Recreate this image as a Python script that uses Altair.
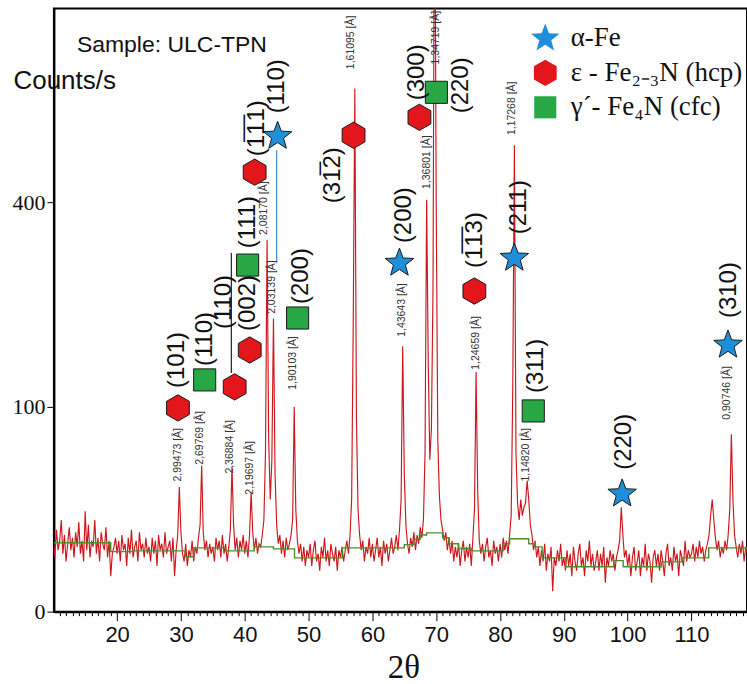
import altair as alt
import pandas as pd

# ---------------- data ----------------
THETA_START = 10.0
THETA_STEP = 0.25
# measured counts/s on a 0.25 deg grid, one list per 5 deg segment
seg_010 = [13, 7, 16, 9, 12, 20, 8, 14, 6, 11, 17, 9, 13, 7, 15, 10, 19, 8, 12, 6]
seg_015 = [24, 9, 18, 7, 12, 10, 20, 8, 13, 6, 15, 11, 9, 17, 7, 12, 3, 8, 10, 13]
seg_020 = [8, 12, 6, 14, 9, 11, 5, 13, 8, 16, 7, 10, 12, 6, 15, 9, 11, 7, 13, 8]
seg_025 = [10, 6, 13, 8, 12, 5, 14, 9, 11, 7, 15, 8, 10, 12, 6, 13, 3, 9, 14, 37]
seg_030 = [15, 8, 6, 11, 5, 9, 7, 12, 6, 10, 8, 13, 18, 51, 15, 9, 12, 7, 11, 8]
seg_035 = [10, 6, 13, 9, 12, 7, 14, 8, 11, 6, 10, 16, 50, 18, 9, 13, 7, 12, 9, 14]
seg_040 = [8, 12, 7, 14, 34, 15, 9, 13, 8, 11, 10, 14, 20, 60, 330, 70, 30, 55, 205, 45]
seg_045 = [18, 11, 14, 8, 12, 7, 13, 9, 11, 14, 20, 100, 25, 12, 8, 11, 6, 10, 5, 9]
seg_050 = [7, 11, 5, 9, 12, 6, 8, 4, 10, 7, 13, 6, 9, 5, 11, 8, 6, 10, 4, 9]
seg_055 = [7, 10, 6, 9, 12, 8, 14, 30, 200, 653, 90, 25, 14, 9, 12, 6, 10, 8, 13, 7]
seg_060 = [11, 6, 9, 13, 7, 10, 5, 12, 8, 11, 6, 9, 13, 8, 10, 14, 9, 16, 30, 168]
seg_065 = [45, 18, 11, 8, 13, 10, 15, 9, 14, 11, 17, 13, 20, 60, 404, 150, 55, 80, 250, 1500]
seg_070 = [400, 70, 32, 20, 16, 12, 15, 9, 13, 8, 12, 6, 10, 7, 11, 5, 9, 12, 6, 10]
seg_075 = [7, 11, 5, 13, 25, 137, 35, 12, 8, 11, 6, 10, 13, 7, 9, 5, 12, 8, 10, 6]
seg_080 = [11, 7, 13, 9, 12, 8, 14, 22, 120, 519, 60, 28, 20, 30, 22, 26, 28, 41, 30, 18]
seg_085 = [14, 9, 12, 7, 10, 5, 9, 6, 11, 4, 8, 6, 10, 1, 7, 5, 9, 6, 11, 5]
seg_090 = [7, 4, 9, 5, 8, 3, 10, 6, 4, 8, 11, 5, 7, 3, 9, 6, 12, 5, 8, 4]
seg_095 = [6, 9, 4, 8, 5, 10, 2, 7, 5, 9, 6, 8, 4, 7, 9, 12, 26, 14, 7, 9]
seg_100 = [5, 8, 3, 7, 10, 4, 6, 9, 3, 7, 5, 11, 4, 8, 6, 2, 7, 9, 5, 8]
seg_105 = [4, 9, 6, 3, 8, 11, 5, 7, 4, 10, 6, 8, 3, 9, 7, 5, 12, 6, 9, 7]
seg_110 = [8, 11, 6, 10, 7, 12, 8, 10, 6, 9, 11, 14, 22, 30, 20, 13, 9, 12, 7, 10]
seg_115 = [8, 12, 9, 14, 25, 75, 30, 14, 10, 7, 11, 8, 12, 6, 10, 8]

# fitted background (green step line)
bg_theta = [10.1, 19.0, 22.5, 30.7, 32.0, 37.0, 41.5, 44.5, 47.8, 55.3, 65.0, 66.5,
            67.5, 68.5, 71.0, 72.0, 73.5, 75.5, 80.5, 81.5, 84.5, 85.5, 86.6, 90.3,
            97.8, 99.3, 105.3, 108.5, 112.7, 118.7]
bg_counts = [11.3, 8.6, 8.8, 7.2, 9.7, 8.8, 10.0, 9.4, 6.9, 9.7, 10.7, 12.5,
             14.0, 14.8, 13.0, 11.0, 9.5, 8.8, 11.0, 12.7, 11.0, 10.0, 6.9, 4.8,
             6.2, 4.8, 5.9, 6.9, 9.7, 9.7]

# phases
phases = ["α-Fe", "ε - Fe₂₋₃N (hcp)", "γ´- Fe₄N (cfc)"]
phase_fill = ["#1e8fd8", "#e3161c", "#27a844"]
STAR = ("M0,-1L0.247,-0.34L0.951,-0.309L0.4,0.13L0.588,0.809L0,0.42"
        "L-0.588,0.809L-0.4,0.13L-0.951,-0.309L-0.247,-0.34Z")
HEX = "M0,-1L0.866,-0.5L0.866,0.5L0,1L-0.866,0.5L-0.866,-0.5Z"
SQUARE = "M-1,-1L1,-1L1,1L-1,1Z"
phase_shape = [STAR, HEX, SQUARE]
phase_size = [900, 490, 420]

# reflection markers: phase index, 2theta, marker height (counts/s)
mk_phase = [1, 2, 1, 1, 2, 1, 0, 2, 1, 0, 1, 2, 1, 0, 2, 0, 0]
mk_theta = [29.53, 33.72, 38.42, 40.78, 40.45, 41.55, 45.15, 48.28, 57.05,
            64.24, 67.37, 70.03, 75.98, 82.24, 85.21, 99.14, 115.72]
mk_counts = [99.0, 128.1, 120.5, 163.3, 286.5, 460.7, 539.1, 205.7, 541.4,
             289.8, 583.0, 643.4, 245.2, 298.2, 96.1, 33.1, 169.6]

# Miller index labels
hkl_text = ["(101)", "(110)", "(110)", "(002)", "(111)", "(1\u03051\u03051)", "(110)",
            "(200)", "(31\u03052)", "(200)", "(300)", "(220)", "(1\u03051\u03053)",
            "(211)", "(311)", "(220)", "(310)"]
hkl_theta = [29.34, 33.72, 36.70, 40.45, 40.45, 41.86, 44.99, 48.75, 53.76,
             65.02, 67.05, 73.94, 76.13, 83.02, 85.68, 99.45, 115.88]
hkl_counts = [151.1, 177.3, 228.7, 227.2, 361.9, 557.4, 658.4, 268.6, 454.4,
              375.0, 693.9, 660.9, 329.3, 390.3, 144.0, 68.8, 246.7]

# d-spacing labels
d_text = ["2,99473 [Å]", "2,69769 [Å]", "2,36884 [Å]", "2,19697 [Å]", "2,08170 [Å]",
          "2,03139 [Å]", "1,90103 [Å]", "1,61095 [Å]", "1,43643 [Å]", "1,36801 [Å]",
          "1,34719 [Å]", "1,24659 [Å]", "1,17268 [Å]", "1,14820 [Å]", "0,90746 [Å]"]
d_theta = [29.53, 33.0, 37.67, 40.8, 42.97, 44.2, 47.5, 56.7, 64.7, 68.6,
           69.9, 76.3, 81.9, 84.0, 115.5]
d_counts = [58.7, 72.0, 64.8, 49.3, 388.4, 251.3, 147.5, 773.1, 217.0, 481.9,
            786.0, 172.2, 604.4, 58.7, 114.1]

# leader lines
ld_theta = [45.0, 37.9]
ld_top = [507.9, 306.7]
ld_bottom = [291.5, 135.9]
ld_color = ["#3a8fc8", "#222222"]

SERIF = "Liberation Serif, Times New Roman, serif"
SANS = "Liberation Sans, Arial, sans-serif"

# ---------------- tables ----------------
counts = (seg_010 + seg_015 + seg_020 + seg_025 + seg_030 + seg_035 + seg_040 + seg_045
          + seg_050 + seg_055 + seg_060 + seg_065 + seg_070 + seg_075 + seg_080 + seg_085
          + seg_090 + seg_095 + seg_100 + seg_105 + seg_110 + seg_115)
trace_df = pd.DataFrame({
    "theta": [round(THETA_START + THETA_STEP * i, 2) for i in range(len(counts))],
    "counts": counts,
})
bg_df = pd.DataFrame({"theta": bg_theta, "counts": bg_counts})
mk_df = pd.DataFrame({"phase": [phases[i] for i in mk_phase], "theta": mk_theta, "counts": mk_counts})
hkl_df = pd.DataFrame({"label": hkl_text, "theta": hkl_theta, "counts": hkl_counts})
d_df = pd.DataFrame({"label": d_text, "theta": d_theta, "counts": d_counts})
ld_df = pd.DataFrame({"theta": ld_theta, "c1": ld_top, "c2": ld_bottom, "col": ld_color})

# ---------------- scales / axes ----------------
xs = alt.Scale(domain=[10.1, 118.7], nice=False, zero=False)
ys = alt.Scale(type="sqrt", domain=[0, 868], nice=False, zero=True)

xaxis = alt.Axis(
    values=list(range(11, 119)),
    labelExpr="datum.value % 10 === 0 && datum.value >= 20 ? datum.label : ''",
    tickSize={"condition": {"test": "datum.value % 10 === 0", "value": 9}, "value": 4},
    labelFont=SANS, labelFontSize=22, labelColor="#111",
    labelPadding=4, labelOverlap=False, labelFlush=False,
    domainColor="black", domainWidth=2, tickColor="black", tickWidth=1,
    grid=False, title="2θ", titleFont=SERIF, titleFontSize=33,
    titleFontWeight="normal", titleColor="#111",
    titleX=350, titleY=66, titleAlign="center", titleBaseline="alphabetic",
)
yaxis = alt.Axis(
    values=[0, 100, 400], tickSize=7, tickColor="black",
    labelFont=SERIF, labelFontSize=22, labelColor="#111", labelPadding=2,
    domainColor="black", domainWidth=2, grid=False,
    title="Counts/s", titleAngle=0, titleX=-41, titleY=80, titleAlign="left",
    titleBaseline="alphabetic", titleFont=SANS, titleFontSize=26,
    titleFontWeight="normal", titleColor="#111",
)


def X(field="theta"):
    return alt.X(f"{field}:Q", scale=xs, axis=xaxis)


def Y(field="counts"):
    return alt.Y(f"{field}:Q", scale=ys, axis=yaxis)


legend = alt.Legend(orient="none", legendX=476.5, legendY=14.5, title=None,
                    labelFont=SERIF, labelFontSize=27)

# ---------------- layers ----------------
trace = alt.Chart(trace_df).mark_line(color="#cf161b", strokeWidth=1.15, clip=True).encode(
    x=X(), y=Y()
)
background = alt.Chart(bg_df).mark_line(
    color="#4a8f2a", strokeWidth=1.4, interpolate="step-after", clip=True
).encode(x=X(), y=Y())

leaders = alt.Chart(ld_df).mark_rule(strokeWidth=1.2).encode(
    x=X(), y=Y("c1"), y2="c2:Q", color=alt.Color("col:N", scale=None, legend=None)
)

markers = alt.Chart(mk_df).mark_point(
    filled=True, stroke="#1a1a1a", strokeWidth=1, strokeOpacity=1, opacity=1
).encode(
    x=X(), y=Y(),
    fill=alt.Fill("phase:N", scale=alt.Scale(domain=phases, range=phase_fill), legend=legend),
    shape=alt.Shape("phase:N", scale=alt.Scale(domain=phases, range=phase_shape), legend=legend),
    size=alt.Size("phase:N", scale=alt.Scale(domain=phases, range=phase_size), legend=legend),
)

hkl = alt.Chart(hkl_df).mark_text(
    angle=270, font=SANS, fontSize=24, color="#111",
    align="center", baseline="middle"
).encode(x=X(), y=Y(), text="label:N")

dlab = alt.Chart(d_df).mark_text(
    angle=270, font="Liberation Sans Narrow, Liberation Sans", fontSize=10.5, color="#333",
    align="center", baseline="middle"
).encode(x=X(), y=Y(), text="label:N")

sample = alt.Chart(alt.Data(values=[{"t": "Sample: ULC-TPN"}])).mark_text(
    align="left", baseline="alphabetic", font=SANS, fontSize=23, color="#111"
).encode(x=alt.value(23), y=alt.value(44), text="t:N")

chart = alt.layer(trace, background, leaders, markers, dlab, hkl, sample).properties(
    width=694, height=604,
    padding={"left": 54, "top": 8, "right": 0, "bottom": 72},
    autosize=alt.AutoSizeParams(type="none"),
    background="white",
).configure_view(stroke="black", strokeWidth=2).configure_legend(
    labelFont=SERIF, labelFontSize=27, labelColor="#111",
    labelOffset=10, rowPadding=4, symbolStrokeColor="#1a1a1a",
    symbolStrokeWidth=1, symbolOpacity=1, labelLimit=400,
)

chart.save("out.html", embed_options={"renderer": "svg", "actions": False})
